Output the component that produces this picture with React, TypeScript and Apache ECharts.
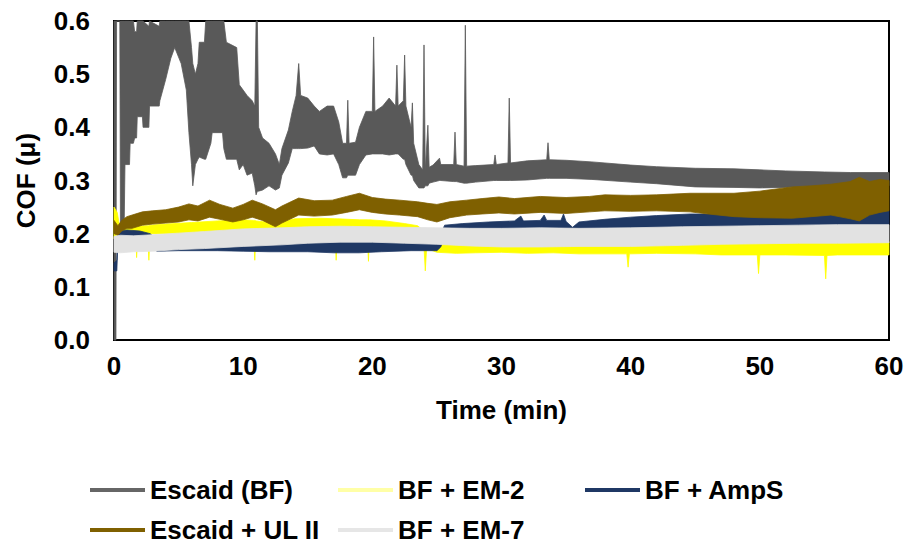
import React, { useEffect, useRef } from "react";
import * as echarts from "echarts";

// ---- data: each row is [time (min), lower edge of band, upper edge of band] (COF) ----
const escaidBF: [number, number, number][] = [
  [0.0, 0.0, 0.65], [0.15, 0.0, 0.65], [0.2, 0.63, 0.65], [0.45, 0.63, 0.65],
  [0.5, 0.2, 0.65], [0.78, 0.2, 0.65], [0.85, 0.33, 0.65], [1.2, 0.33, 0.65],
  [1.25, 0.37, 0.65], [1.5, 0.37, 0.62], [1.6, 0.38, 0.58], [1.75, 0.38, 0.58],
  [1.8, 0.42, 0.65], [2.2, 0.42, 0.65], [2.25, 0.4, 0.6], [2.7, 0.4, 0.59],
  [2.75, 0.44, 0.6], [3.5, 0.44, 0.59], [3.55, 0.45, 0.65], [4.0, 0.49, 0.65],
  [4.4, 0.53, 0.65], [4.7, 0.55, 0.65], [5.2, 0.52, 0.65], [5.6, 0.47, 0.65],
  [5.8, 0.39, 0.6], [6.0, 0.33, 0.55], [6.1, 0.29, 0.52], [6.3, 0.33, 0.5],
  [6.5, 0.34, 0.52], [6.6, 0.344, 0.56], [7.0, 0.34, 0.56], [7.1, 0.34, 0.65],
  [7.5, 0.37, 0.65], [7.6, 0.39, 0.65], [8.4, 0.39, 0.65], [8.5, 0.36, 0.6],
  [8.7, 0.34, 0.56], [9.5, 0.34, 0.55], [9.7, 0.32, 0.48], [10.0, 0.33, 0.47],
  [10.3, 0.31, 0.46], [10.7, 0.314, 0.45], [10.9, 0.29, 0.44], [11.0, 0.273, 0.65],
  [11.1, 0.28, 0.65], [11.2, 0.28, 0.4], [11.5, 0.282, 0.38], [12.0, 0.29, 0.37],
  [12.5, 0.282, 0.35], [12.8, 0.286, 0.33], [13.0, 0.31, 0.36], [13.5, 0.333, 0.395],
  [13.8, 0.36, 0.43], [14.1, 0.36, 0.46], [14.3, 0.36, 0.52], [14.45, 0.36, 0.46],
  [15.0, 0.361, 0.455], [15.5, 0.365, 0.44], [15.9, 0.35, 0.43], [16.5, 0.348, 0.44],
  [17.0, 0.35, 0.44], [17.4, 0.33, 0.41], [17.7, 0.305, 0.37], [18.0, 0.305, 0.37],
  [18.1, 0.31, 0.451], [18.2, 0.31, 0.37], [18.7, 0.31, 0.372], [19.0, 0.33, 0.4],
  [19.5, 0.348, 0.43], [20.0, 0.35, 0.43], [20.1, 0.35, 0.57], [20.2, 0.35, 0.43],
  [20.8, 0.35, 0.44], [21.3, 0.348, 0.455], [21.8, 0.35, 0.44], [21.9, 0.35, 0.517],
  [22.0, 0.35, 0.44], [22.4, 0.34, 0.45], [22.5, 0.34, 0.536], [22.6, 0.33, 0.44],
  [23.0, 0.31, 0.4], [23.1, 0.31, 0.446], [23.2, 0.3, 0.37], [23.6, 0.286, 0.33],
  [23.9, 0.286, 0.32], [24.0, 0.286, 0.555], [24.1, 0.29, 0.32], [24.3, 0.29, 0.404],
  [24.4, 0.295, 0.325], [24.7, 0.297, 0.329], [25.2, 0.3, 0.342], [25.3, 0.3, 0.33],
  [26.3, 0.298, 0.33], [26.4, 0.298, 0.391], [26.5, 0.298, 0.33], [27.1, 0.295, 0.327],
  [27.2, 0.295, 0.592], [27.3, 0.295, 0.327], [28.0, 0.297, 0.328], [29.4, 0.3, 0.33],
  [29.5, 0.3, 0.348], [29.6, 0.3, 0.33], [30.5, 0.3, 0.333], [30.6, 0.3, 0.455],
  [30.7, 0.3, 0.333], [32.0, 0.301, 0.337], [33.5, 0.304, 0.339], [33.6, 0.304, 0.371],
  [33.7, 0.304, 0.339], [35.0, 0.304, 0.338], [37.0, 0.302, 0.335], [40.0, 0.297, 0.329],
  [42.0, 0.294, 0.326], [45.0, 0.288, 0.323], [48.0, 0.287, 0.322], [50.0, 0.286, 0.32],
  [52.0, 0.287, 0.318], [55.0, 0.29, 0.316], [57.0, 0.29, 0.315], [60.0, 0.29, 0.315],
];

const bfEM2: [number, number, number][] = [
  [0.0, 0.19, 0.25], [0.25, 0.19, 0.24], [0.45, 0.195, 0.212], [1.0, 0.197, 0.212],
  [1.7, 0.198, 0.214], [1.75, 0.155, 0.214], [1.85, 0.198, 0.214], [2.6, 0.199, 0.215],
  [2.7, 0.15, 0.215], [2.8, 0.2, 0.216], [4.0, 0.2, 0.218], [6.0, 0.2, 0.221],
  [8.0, 0.201, 0.224], [10.0, 0.202, 0.226], [10.8, 0.2, 0.225], [10.9, 0.15, 0.225],
  [11.0, 0.2, 0.224], [12.5, 0.2, 0.22], [14.0, 0.203, 0.228], [16.0, 0.204, 0.229],
  [17.1, 0.204, 0.228], [17.2, 0.15, 0.228], [17.3, 0.204, 0.228], [19.0, 0.204, 0.226],
  [19.6, 0.204, 0.226], [19.7, 0.148, 0.226], [19.8, 0.204, 0.226], [21.0, 0.2, 0.224],
  [22.5, 0.197, 0.219], [23.5, 0.19, 0.215], [24.0, 0.175, 0.205], [24.1, 0.13, 0.2],
  [24.2, 0.172, 0.2], [25.0, 0.165, 0.19], [26.5, 0.163, 0.182], [28.0, 0.164, 0.181],
  [30.0, 0.165, 0.18], [32.0, 0.163, 0.18], [34.0, 0.164, 0.181], [36.0, 0.162, 0.18],
  [39.7, 0.162, 0.18], [39.8, 0.137, 0.18], [39.9, 0.162, 0.18], [42.0, 0.163, 0.181],
  [45.0, 0.162, 0.182], [47.0, 0.16, 0.182], [49.8, 0.16, 0.182], [49.9, 0.125, 0.182],
  [50.0, 0.16, 0.182], [52.0, 0.16, 0.183], [55.0, 0.159, 0.184], [55.1, 0.115, 0.184],
  [55.2, 0.159, 0.184], [56.0, 0.16, 0.184], [58.0, 0.16, 0.185], [60.0, 0.16, 0.185],
];

const bfAmpS: [number, number, number][] = [
  [0.0, 0.13, 0.145], [0.22, 0.13, 0.15], [0.3, 0.185, 0.205], [1.0, 0.185, 0.207],
  [2.0, 0.185, 0.205], [2.8, 0.18, 0.2], [3.3, 0.167, 0.19], [5.0, 0.168, 0.19],
  [8.0, 0.168, 0.19], [10.0, 0.167, 0.19], [12.0, 0.166, 0.19], [15.0, 0.166, 0.19],
  [17.0, 0.164, 0.19], [19.0, 0.164, 0.19], [20.7, 0.166, 0.19], [23.0, 0.168, 0.19],
  [25.0, 0.168, 0.19], [25.3, 0.175, 0.2], [25.6, 0.195, 0.216], [27.0, 0.197, 0.219],
  [29.0, 0.198, 0.222], [31.0, 0.2, 0.224], [31.5, 0.2, 0.233], [31.7, 0.2, 0.224],
  [33.0, 0.2, 0.225], [33.3, 0.2, 0.235], [33.5, 0.2, 0.225], [34.6, 0.2, 0.225],
  [34.8, 0.2, 0.237], [35.0, 0.2, 0.223], [35.5, 0.19, 0.212], [36.0, 0.198, 0.222],
  [38.0, 0.202, 0.227], [40.0, 0.204, 0.231], [42.0, 0.206, 0.234], [44.6, 0.207, 0.237],
  [47.0, 0.208, 0.237], [50.0, 0.21, 0.239], [53.0, 0.212, 0.239], [55.0, 0.213, 0.24],
  [57.0, 0.215, 0.241], [60.0, 0.217, 0.243],
];

const escaidULII: [number, number, number][] = [
  [0.0, 0.2, 0.225], [0.3, 0.197, 0.215], [0.6, 0.205, 0.225], [1.0, 0.21, 0.232],
  [1.4, 0.21, 0.235], [2.2, 0.216, 0.241], [3.0, 0.218, 0.243], [4.0, 0.22, 0.245],
  [5.0, 0.222, 0.25], [5.8, 0.226, 0.256], [6.5, 0.224, 0.252], [7.4, 0.231, 0.263],
  [8.2, 0.227, 0.255], [9.2, 0.222, 0.248], [10.0, 0.226, 0.255], [10.7, 0.231, 0.263],
  [11.5, 0.225, 0.256], [12.5, 0.213, 0.245], [13.0, 0.22, 0.252], [14.3, 0.235, 0.267],
  [15.5, 0.233, 0.262], [16.9, 0.235, 0.263], [18.0, 0.24, 0.27], [19.0, 0.245, 0.276],
  [20.0, 0.24, 0.268], [21.0, 0.237, 0.265], [22.1, 0.235, 0.263], [23.5, 0.232, 0.26],
  [24.3, 0.226, 0.257], [25.0, 0.222, 0.255], [26.0, 0.23, 0.26], [27.3, 0.235, 0.263],
  [28.5, 0.237, 0.266], [29.8, 0.239, 0.269], [31.0, 0.237, 0.266], [33.0, 0.24, 0.27],
  [35.0, 0.238, 0.268], [36.8, 0.241, 0.27], [38.0, 0.243, 0.273], [40.0, 0.242, 0.272],
  [42.0, 0.243, 0.273], [44.6, 0.241, 0.276], [46.0, 0.237, 0.276], [48.0, 0.232, 0.276],
  [50.0, 0.23, 0.28], [52.5, 0.229, 0.288], [54.0, 0.232, 0.29], [55.5, 0.235, 0.293],
  [57.0, 0.228, 0.298], [57.7, 0.224, 0.306], [58.5, 0.235, 0.298], [59.3, 0.24, 0.302],
  [60.0, 0.243, 0.3],
];

const bfEM7: [number, number, number][] = [
  [0.0, 0.165, 0.195], [0.5, 0.164, 0.197], [1.5, 0.166, 0.196], [3.0, 0.167, 0.198],
  [5.0, 0.17, 0.201], [7.0, 0.172, 0.204], [10.0, 0.176, 0.209], [13.0, 0.179, 0.211],
  [15.0, 0.182, 0.213], [17.5, 0.184, 0.214], [20.0, 0.184, 0.213], [22.5, 0.182, 0.212],
  [25.0, 0.18, 0.211], [27.5, 0.177, 0.21], [30.0, 0.175, 0.21], [33.0, 0.175, 0.211],
  [36.0, 0.176, 0.21], [40.0, 0.176, 0.211], [44.0, 0.178, 0.213], [47.0, 0.18, 0.214],
  [50.0, 0.181, 0.215], [53.0, 0.182, 0.216], [56.0, 0.182, 0.217], [60.0, 0.183, 0.217],
];

const seriesNames = ["Escaid (BF)", "BF + EM-2", "BF + AmpS", "Escaid + UL II", "BF + EM-7"];
const seriesRows = [escaidBF, bfEM2, bfAmpS, escaidULII, bfEM7];
const seriesColors = ["#595959", "#ffff00", "#1f3864", "#7f6000", "#e2e2e2"];
const legendColors = ["#666666", "#ffffa6", "#1f3864", "#7f6000", "#e6e6e6"];
// legend slot for each series: [left, top]
const legendSlots: [number, number][] = [[90, 477], [338, 477], [585, 477], [90, 517], [338, 517]];

const xMin = 0, xMax = 60, xStep = 10;
const yMin = 0, yMax = 0.6, yStep = 0.1;

const FONT = "'Liberation Sans', Arial, sans-serif";
const FS = 26;

export default function App() {
  const ref = useRef<HTMLDivElement>(null);
  useEffect(() => {
    document.body.style.margin = "0";
    if (!ref.current) return;
    const chart = echarts.init(ref.current, undefined, { renderer: "svg" });
    const clampY = (v: number) => Math.max(yMin, Math.min(yMax, v));
    const series: any[] = seriesRows.map((rows, i) => ({
      type: "custom",
      name: seriesNames[i],
      coordinateSystem: "cartesian2d",
      data: rows,
      encode: { x: 0, y: [1, 2] },
      itemStyle: { color: seriesColors[i] },
      silent: true,
      renderItem: (params: any, api: any) => {
        if (params.dataIndex !== 0) return null;
        const upper = rows.map((r) => api.coord([r[0], clampY(r[2])]));
        const lower = rows.map((r) => api.coord([r[0], clampY(r[1])])).reverse();
        return {
          type: "polygon",
          shape: { points: upper.concat(lower) },
          style: { fill: seriesColors[i], stroke: seriesColors[i], lineWidth: 0.8 },
        };
      },
    }));
    const legends = seriesNames.map((name, i) => ({
      orient: "horizontal",
      left: legendSlots[i][0],
      top: legendSlots[i][1],
      padding: 0,
      itemWidth: 55,
      itemHeight: 4,
      icon: "rect",
      selectedMode: false,
      textStyle: { fontFamily: FONT, fontSize: FS, fontWeight: "bold", color: "#000", lineHeight: 26 },
      data: [{ name, itemStyle: { color: legendColors[i] } }],
    }));
    chart.setOption({
      animation: false,
      backgroundColor: "#fff",
      grid: {
        left: 114, right: 18, top: 21, bottom: 205,
        show: true, borderColor: "#000", borderWidth: 2, backgroundColor: "transparent",
      },
      legend: legends,
      xAxis: {
        type: "value",
        min: xMin, max: xMax, interval: xStep,
        name: "Time (min)",
        nameLocation: "middle",
        nameGap: 57,
        nameTextStyle: { fontFamily: FONT, fontSize: FS, fontWeight: "bold", color: "#000" },
        axisLine: { show: true, lineStyle: { color: "#000", width: 2 } },
        axisTick: { show: false },
        splitLine: { show: false },
        axisLabel: { fontFamily: FONT, fontSize: FS, fontWeight: "bold", color: "#000", margin: 13 },
      },
      yAxis: {
        type: "value",
        min: yMin, max: yMax, interval: yStep,
        name: "COF (μ)",
        nameLocation: "middle",
        nameGap: 75,
        nameTextStyle: { fontFamily: FONT, fontSize: FS, fontWeight: "bold", color: "#000" },
        axisLine: { show: true, lineStyle: { color: "#000", width: 2 } },
        axisTick: { show: false },
        splitLine: { show: false },
        axisLabel: {
          fontFamily: FONT, fontSize: FS, fontWeight: "bold", color: "#000", margin: 24,
          formatter: (v: number) => v.toFixed(1),
        },
      },
      series,
    });
    return () => chart.dispose();
  }, []);
  return <div ref={ref} style={{ width: 907, height: 545 }} />;
}
